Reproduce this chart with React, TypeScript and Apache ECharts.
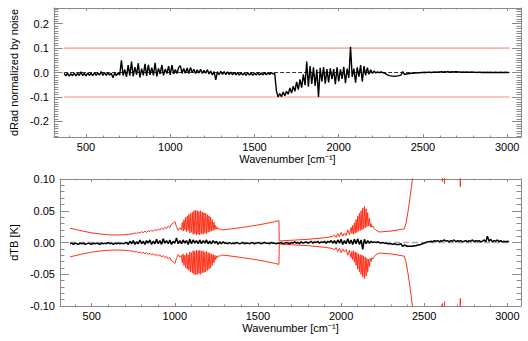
import React, { useEffect, useRef } from "react";
import * as echarts from "echarts";

// ---------- data ----------
const wnStart = 370;
const wnStep = 10;

// top panel: dRad normalized by noise (370 .. 3010 step 10)
const dRad: number[] = [
  // 370..700
  -0.004, -0.014, -0.003, -0.015, -0.005, -0.013, -0.002, -0.014, -0.004, -0.012,
  0.003, -0.013, -0.004, -0.014, -0.002, -0.012, -0.003, -0.013, -0.001, -0.012,
  -0.002, -0.011, 0.004, -0.012, -0.001, -0.012, -0.002, -0.010, -0.003, -0.022,
  -0.002, -0.013, -0.001, -0.011,
  // 710..1300
  0.050, -0.012, 0.012, -0.018, 0.030, -0.013, 0.045, -0.016, 0.022, -0.010,
  0.038, -0.020, 0.016, -0.012, 0.035, -0.014, 0.031, -0.010, 0.020, -0.012,
  0.040, -0.016, 0.017, -0.006, 0.031, -0.012, 0.014, -0.004, 0.026, -0.010,
  0.030, -0.006, 0.012, -0.004, 0.021, 0.028, -0.004, 0.016, -0.003, 0.019,
  -0.004, 0.021, 0.000, 0.013, -0.004, 0.011, -0.002, 0.013, -0.004, 0.009,
  -0.003, 0.011, -0.006, 0.006, -0.010, 0.004, -0.030, 0.003, -0.009, 0.005,
  // 1310..1600
  -0.008, 0.004, -0.009, 0.003, -0.009, 0.002, -0.010, 0.001, -0.010, 0.000,
  -0.011, -0.001, -0.010, -0.002, -0.012, -0.001, -0.011, -0.002, -0.012, -0.002,
  -0.011, -0.001, -0.011, -0.002, -0.010, -0.001, -0.009, -0.001, -0.008, 0.000,
  // 1610..2490
  -0.006, -0.003, -0.075, -0.100,
  -0.086, -0.099, -0.080, -0.095, -0.077, -0.089, -0.063, -0.084, -0.056, -0.077,
  -0.038, -0.070, -0.028, -0.062, -0.008, -0.052, 0.045, -0.058, 0.026, -0.047,
  0.021, -0.055, 0.012, -0.100, 0.019, -0.037, 0.022, -0.046, 0.014, -0.041,
  0.017, -0.027, 0.014, -0.048, 0.021, -0.036, 0.013, -0.026, 0.023, -0.044,
  0.016, -0.022, 0.105, -0.018, 0.016, -0.042, 0.021, -0.017, 0.030, -0.038,
  0.026, -0.012, 0.020, -0.007, 0.011, -0.004, 0.006, -0.002, 0.003, -0.001,
  0.002, 0.000, -0.002, -0.006, -0.010, -0.013, -0.014, -0.015, -0.016, -0.015,
  -0.014, -0.013, -0.010, 0.004, -0.008, -0.006, -0.005, -0.004, -0.003, -0.003,
  -0.002, -0.002, -0.001, -0.001, 0.000,
  // 2500..3010
  0.000, 0.001, 0.000, 0.001, 0.001, 0.000, 0.001, 0.002, 0.001, 0.002,
  0.002, 0.003, 0.001, 0.003, 0.002, 0.004, 0.001, 0.003, 0.002, 0.003,
  0.003, 0.002, 0.002, 0.001, 0.002, 0.001, 0.002, 0.001, 0.001, 0.002,
  0.001, 0.001, 0.000, 0.001, 0.001, 0.000, 0.001, 0.000, 0.001, 0.000,
  0.001, 0.000, 0.000, 0.001, 0.000, 0.000, 0.001, 0.000, 0.000, 0.001,
  0.000, 0.000,
];

// bottom panel: dTB [K] (370 .. 3010 step 10)
const dTB: number[] = [
  // 370..700
  -0.002, -0.001, -0.003, -0.001, -0.002, -0.003, -0.001, -0.002, -0.001, -0.003,
  -0.002, -0.001, -0.002, -0.003, -0.001, -0.002, -0.001, -0.002, -0.003, -0.001,
  -0.002, -0.001, -0.002, 0.000, -0.002, -0.001, -0.003, -0.001, -0.002, -0.001,
  -0.002, -0.001, -0.002, -0.001,
  // 710..1300
  0.000, -0.003, 0.002, -0.002, 0.003, -0.003, 0.001, -0.002, 0.004, -0.002,
  0.002, -0.003, 0.003, -0.001, 0.004, -0.003, 0.002, -0.002, 0.005, -0.002,
  0.003, -0.003, 0.006, -0.001, 0.003, -0.002, 0.004, -0.003, 0.002, -0.001,
  0.007, -0.002, 0.003, -0.002, 0.004, -0.001, 0.003, -0.003, 0.005, -0.002,
  0.004, -0.001, 0.003, -0.002, 0.004, -0.002, 0.003, -0.001, 0.004, -0.002,
  0.002, -0.002, 0.003, -0.001, 0.002, -0.003, 0.001, -0.002, 0.001, -0.001,
  // 1310..1620
  -0.001, -0.002, 0.000, -0.002, -0.001, -0.002, 0.000, -0.001, -0.002, -0.001,
  0.000, -0.002, -0.001, -0.001, -0.002, 0.000, -0.001, -0.002, -0.001, 0.000,
  -0.001, -0.002, -0.001, 0.000, -0.001, -0.001, -0.002, 0.000, -0.001, -0.001,
  -0.002, -0.001,
  // 1630..1950
  -0.001, 0.000, -0.002, -0.001, 0.000, -0.001, -0.002, 0.000, -0.001, 0.001,
  -0.001, 0.000, -0.002, 0.001, -0.001, 0.000, 0.001, -0.001, 0.000, 0.002,
  -0.001, 0.001, 0.000, 0.002, -0.001, 0.001, 0.000, 0.002, -0.001, 0.002,
  0.000, 0.003, -0.001,
  // 1960..2200
  0.003, -0.002, 0.004, -0.001, 0.005, -0.003, 0.003, -0.002, 0.006, -0.002,
  0.004, -0.003, 0.005, -0.002, 0.006, -0.003, 0.004, -0.011, 0.005, -0.002,
  0.003, -0.001, 0.002, 0.000, 0.001,
  // 2210..2490
  0.000, 0.001, 0.000, -0.001, 0.000, -0.001, -0.001, -0.002, -0.002, -0.002,
  -0.003, -0.002, -0.003, -0.003, -0.003, -0.002, -0.006, -0.004, -0.005, -0.006,
  -0.006, -0.006, -0.006, -0.005, -0.005, -0.004, -0.004, -0.003, -0.002,
  // 2500..3010
  -0.001, 0.000, 0.001, 0.001, 0.002, 0.001, 0.003, 0.002, 0.003, 0.001,
  0.003, 0.002, 0.004, 0.002, 0.003, 0.001, 0.003, 0.002, 0.004, 0.001,
  0.003, 0.002, 0.003, 0.001, 0.002, 0.003, 0.001, 0.003, 0.002, 0.004,
  0.001, 0.003, 0.002, 0.003, 0.001, 0.002, 0.004, 0.001, 0.010, 0.002,
  0.005, 0.001, 0.003, 0.002, 0.004, 0.001, 0.003, 0.001, 0.002, 0.001,
  0.002, 0.001,
];

// bottom panel: noise envelope (upper, +sigma) as [wavenumber, value]
const tbSigma: [number, number][] = [
  [370, 0.0225], [400, 0.0207], [450, 0.0177], [500, 0.0152], [550, 0.0134],
  [600, 0.0122], [650, 0.0118], [700, 0.0123], [730, 0.0131], [750, 0.0140],
  [760, 0.0150], [770, 0.0142], [780, 0.0160], [790, 0.0148], [800, 0.0170],
  [810, 0.0155], [820, 0.0178], [830, 0.0160], [840, 0.0185], [850, 0.0168],
  [860, 0.0195], [870, 0.0175], [880, 0.0205], [890, 0.0185], [900, 0.0215],
  [910, 0.0195], [920, 0.0228], [930, 0.0205], [940, 0.0240], [950, 0.0218],
  [960, 0.0260], [970, 0.0235], [980, 0.0290], [990, 0.0300], [1000, 0.0330],
  [1010, 0.0250], [1020, 0.0190], [1030, 0.0230], [1040, 0.0200],
  [1045, 0.032], [1050, 0.018], [1055, 0.036], [1060, 0.020], [1065, 0.040],
  [1070, 0.017], [1075, 0.042], [1080, 0.019], [1085, 0.044], [1090, 0.015],
  [1095, 0.046], [1100, 0.016], [1105, 0.048], [1110, 0.013], [1115, 0.050],
  [1120, 0.014], [1125, 0.051], [1130, 0.012], [1135, 0.050], [1140, 0.013],
  [1145, 0.049], [1150, 0.012], [1155, 0.050], [1160, 0.014], [1165, 0.048],
  [1170, 0.013], [1175, 0.047], [1180, 0.015], [1185, 0.046], [1190, 0.014],
  [1195, 0.044], [1200, 0.016], [1205, 0.042], [1210, 0.017], [1215, 0.040],
  [1220, 0.018], [1225, 0.036], [1230, 0.019], [1235, 0.032], [1240, 0.020],
  [1245, 0.027], [1250, 0.021], [1255, 0.024], [1260, 0.021], [1270, 0.0215],
  [1280, 0.0200], [1290, 0.0200], [1300, 0.0202],
  [1350, 0.0218], [1400, 0.0236], [1450, 0.0255], [1500, 0.0276], [1550, 0.0300],
  [1600, 0.0328], [1626, 0.0345], [1628, 0.0025], [1700, 0.0035], [1800, 0.0050],
  [1900, 0.0075], [1950, 0.0095],
  [1960, 0.012], [1970, 0.008], [1980, 0.014], [1990, 0.009], [2000, 0.016],
  [2010, 0.010], [2020, 0.015], [2030, 0.011], [2040, 0.020], [2050, 0.012],
  [2060, 0.024], [2065, 0.014], [2070, 0.027], [2075, 0.013], [2080, 0.031],
  [2085, 0.015], [2090, 0.036], [2095, 0.016], [2100, 0.042], [2105, 0.018],
  [2110, 0.046], [2115, 0.019], [2120, 0.050], [2125, 0.020], [2130, 0.054],
  [2135, 0.021], [2140, 0.057], [2145, 0.023], [2150, 0.053], [2155, 0.025],
  [2160, 0.047], [2165, 0.026], [2170, 0.038], [2175, 0.025], [2180, 0.030],
  [2185, 0.024], [2190, 0.026], [2200, 0.022], [2210, 0.019], [2220, 0.018],
  [2230, 0.0165],
  [2300, 0.018], [2380, 0.0215], [2390, 0.030], [2400, 0.045], [2410, 0.062],
  [2420, 0.082], [2430, 0.102], [2450, 0.14], [2500, 0.25], [2605, 0.5],
  [2610, 0.096], [2615, 0.5], [2622, 0.093], [2628, 0.5], [2712, 0.5],
  [2717, 0.088], [2722, 0.5], [3010, 0.6],
];

const radThresholds = [0.1, -0.1];
const dataRange = [370, 3015];

// axes
const X_MIN = 309;
const X_MAX = 3082;
const xMajorTicks = [500, 1000, 1500, 2000, 2500, 3000];
const xMinorStep = 100;
const TOP_Y = 0.264;
const yTopMajor = [-0.2, -0.1, 0, 0.1, 0.2];
const yTopMinorStep = 0.01;
const BOT_Y = 0.1;
const yBotMajor = [-0.1, -0.05, 0, 0.05, 0.1];
const yBotMinorStep = 0.01;

function stepValues(lo: number, hi: number, step: number): number[] {
  const out: number[] = [];
  const n0 = Math.ceil(lo / step - 1e-9);
  const n1 = Math.floor(hi / step + 1e-9);
  for (let n = n0; n <= n1; n++) out.push(Math.round(n * step * 1e6) / 1e6);
  return out;
}

const FONT = "Liberation Sans, Arial, Helvetica, sans-serif";
const AXIS_COLOR = "#8a8a8a";

export default function App() {
  const ref = useRef<HTMLDivElement>(null);

  useEffect(() => {
    if (!ref.current) return;
    const chart = echarts.init(ref.current, undefined, { renderer: "svg" });

    const wavenumber = dRad.map((_, i) => wnStart + i * wnStep);
    const xMinor = stepValues(X_MIN, X_MAX, xMinorStep);
    const yTopMinor = stepValues(-TOP_Y, TOP_Y, yTopMinorStep);
    const yBotMinor = stepValues(-BOT_Y, BOT_Y, yBotMinorStep);

    const tickStyle = { color: AXIS_COLOR, width: 1 };
    const labelStyle = { color: "#000", fontSize: 11, fontFamily: FONT };

    const makeX = (gridIndex: number) => {
      const base = {
        type: "value",
        gridIndex,
        min: X_MIN,
        max: X_MAX,
        splitLine: { show: false },
      };
      return [
        {
          ...base,
          position: "bottom",
          axisLine: { show: true, onZero: false, lineStyle: tickStyle },
          axisTick: { show: true, inside: true, length: 3, customValues: xMajorTicks, lineStyle: tickStyle },
          axisLabel: {
            show: true,
            customValues: xMajorTicks,
            margin: 4,
            formatter: (v: number) => String(v),
            ...labelStyle,
          },
          name: "Wavenumber [cm⁻¹]",
          nameLocation: "middle",
          nameGap: 16,
          nameTextStyle: { ...labelStyle },
        },
        {
          ...base,
          position: "bottom",
          axisLine: { show: false, onZero: false },
          axisTick: { show: true, inside: true, length: 1.5, customValues: xMinor, lineStyle: tickStyle },
          axisLabel: { show: false },
        },
        {
          ...base,
          position: "top",
          axisLine: { show: true, onZero: false, lineStyle: tickStyle },
          axisTick: { show: true, inside: true, length: 3, customValues: xMajorTicks, lineStyle: tickStyle },
          axisLabel: { show: false },
        },
        {
          ...base,
          position: "top",
          axisLine: { show: false, onZero: false },
          axisTick: { show: true, inside: true, length: 1.5, customValues: xMinor, lineStyle: tickStyle },
          axisLabel: { show: false },
        },
      ];
    };

    const makeY = (
      gridIndex: number,
      lim: number,
      major: number[],
      minor: number[],
      decimals: number,
      name: string,
      nameGap: number
    ) => {
      const base = {
        type: "value",
        gridIndex,
        min: -lim,
        max: lim,
        splitLine: { show: false },
      };
      return [
        {
          ...base,
          position: "left",
          axisLine: { show: true, onZero: false, lineStyle: tickStyle },
          axisTick: { show: true, inside: true, length: 9, customValues: major, lineStyle: tickStyle },
          axisLabel: {
            show: true,
            customValues: major,
            margin: 5,
            formatter: (v: number) => v.toFixed(decimals),
            ...labelStyle,
          },
          name,
          nameLocation: "middle",
          nameRotate: 90,
          nameGap,
          nameTextStyle: { ...labelStyle },
        },
        {
          ...base,
          position: "left",
          axisLine: { show: false, onZero: false },
          axisTick: { show: true, inside: true, length: 4.5, customValues: minor, lineStyle: tickStyle },
          axisLabel: { show: false },
        },
        {
          ...base,
          position: "right",
          axisLine: { show: true, onZero: false, lineStyle: tickStyle },
          axisTick: { show: true, inside: true, length: 9, customValues: major, lineStyle: tickStyle },
          axisLabel: { show: false },
        },
        {
          ...base,
          position: "right",
          axisLine: { show: false, onZero: false },
          axisTick: { show: true, inside: true, length: 4.5, customValues: minor, lineStyle: tickStyle },
          axisLabel: { show: false },
        },
      ];
    };

    const line = (
      xAxisIndex: number,
      yAxisIndex: number,
      data: number[][],
      color: string,
      width: number,
      type: string = "solid",
      z = 2
    ) => ({
      type: "line",
      xAxisIndex,
      yAxisIndex,
      data,
      showSymbol: false,
      symbol: "none",
      clip: true,
      z,
      lineStyle: { color, width, type },
      emphasis: { disabled: true },
    });

    const option = {
      animation: false,
      backgroundColor: "#fff",
      textStyle: { fontFamily: FONT },
      grid: [
        { left: 49, top: 8, width: 472, height: 129 },
        { left: 49, top: 179, width: 472, height: 127 },
      ],
      xAxis: [...makeX(0), ...makeX(1)],
      yAxis: [
        ...makeY(0, TOP_Y, yTopMajor, yTopMinor, 1, "dRad normalized by noise", 28),
        ...makeY(1, BOT_Y, yBotMajor, yBotMinor, 2, "dTB [K]", 28),
      ],
      series: [
        line(0, 0, [[dataRange[0], radThresholds[0]], [dataRange[1], radThresholds[0]]], "#ff7565", 1),
        line(0, 0, [[dataRange[0], radThresholds[1]], [dataRange[1], radThresholds[1]]], "#ffb2a8", 1.6),
        line(0, 0, [[dataRange[0], 0], [dataRange[1], 0]], "#333", 1, "dashed"),
        line(0, 0, wavenumber.map((w, i) => [w, dRad[i]]), "#000", 1.4, "solid", 3),
        line(4, 4, tbSigma.map(([w, s]) => [w, s]), "#ff3019", 1),
        line(4, 4, tbSigma.map(([w, s]) => [w, -s]), "#ff3019", 1),
        line(4, 4, [[dataRange[0], 0], [dataRange[1], 0]], "#aaa", 1.5, "dashed"),
        line(4, 4, wavenumber.map((w, i) => [w, dTB[i]]), "#000", 1.5, "solid", 3),
      ],
    };

    chart.setOption(option as any);
    return () => chart.dispose();
  }, []);

  return (
    <div
      ref={ref}
      style={{ position: "absolute", left: 0, top: 0, width: 528, height: 341, background: "#fff" }}
    />
  );
}
